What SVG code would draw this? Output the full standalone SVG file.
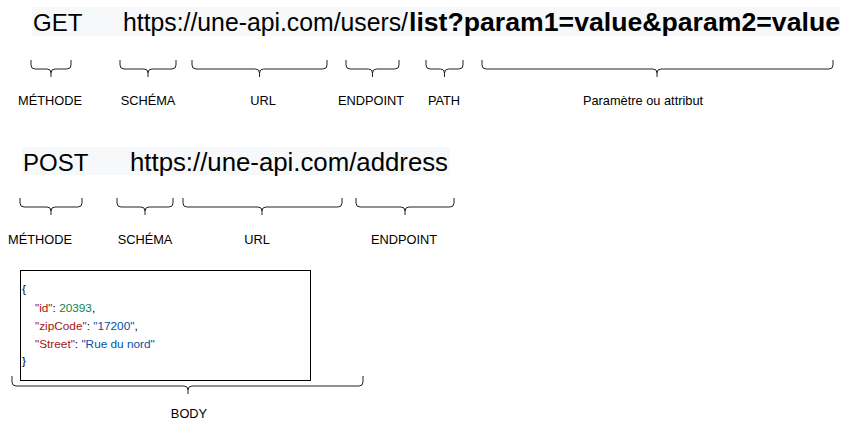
<svg xmlns="http://www.w3.org/2000/svg" width="851" height="426" viewBox="0 0 851 426">
<style>
.bg{fill:#f6f8fa}
.big{font-family:"Liberation Sans",Arial,sans-serif;font-size:24px;fill:#000}
.url{font-family:"Liberation Sans",Arial,sans-serif;font-size:25px;fill:#000}
.b{font-weight:bold}
.lbl{font-family:"Liberation Sans",Arial,sans-serif;font-size:12.8px;fill:#000;text-anchor:middle}
.brace{fill:none;stroke:#222;stroke-width:1}
.code{font-family:"Liberation Sans",Arial,sans-serif;font-size:11.8px;fill:#000}
.k{fill:#a31515}.n{fill:#098658}.s{fill:#0451a5}
</style>
<rect width="851" height="426" fill="#fff"/>
<g id="get-request">
<rect class="bg" x="32" y="7" width="808" height="29"/>
<text class="big" x="33" y="31">GET</text>
<text class="url" x="123" y="31" textLength="285" lengthAdjust="spacingAndGlyphs">https://une-api.com/users/</text>
<text class="url b" x="409" y="31" textLength="431" lengthAdjust="spacingAndGlyphs">list?param1=value&amp;param2=value</text>
</g>
<g id="post-request">
<rect class="bg" x="22" y="147" width="428" height="28"/>
<text class="big" x="23" y="171">POST</text>
<text class="url" x="130" y="171" textLength="318" lengthAdjust="spacingAndGlyphs">https://une-api.com/address</text>
</g>
<g id="connectors">
<path class="brace" d="M31,60 V65 Q31,69 35,69 H47 Q51,69 51,73 V77 M51,73 Q51,69 55,69 H67 Q71,69 71,65 V60"/>
<path class="brace" d="M120,60 V65 Q120,69 124,69 H144 Q148,69 148,73 V77 M148,73 Q148,69 152,69 H172 Q176,69 176,65 V60"/>
<path class="brace" d="M192,60 V65 Q192,69 196,69 H255.5 Q259.5,69 259.5,73 V77 M259.5,73 Q259.5,69 263.5,69 H323 Q327,69 327,65 V60"/>
<path class="brace" d="M346,60 V65 Q346,69 350,69 H368.5 Q372.5,69 372.5,73 V77 M372.5,73 Q372.5,69 376.5,69 H395 Q399,69 399,65 V60"/>
<path class="brace" d="M426,60 V65 Q426,69 430,69 H440.5 Q444.5,69 444.5,73 V77 M444.5,73 Q444.5,69 448.5,69 H459 Q463,69 463,65 V60"/>
<path class="brace" d="M482,60 V65 Q482,69 486,69 H653 Q657,69 657,73 V77 M657,73 Q657,69 661,69 H829 Q833,69 833,65 V60"/>
<path class="brace" d="M20,198 V203 Q20,207 24,207 H47 Q51,207 51,211 V215 M51,211 Q51,207 55,207 H78 Q82,207 82,203 V198"/>
<path class="brace" d="M117,198 V203 Q117,207 121,207 H141 Q145,207 145,211 V215 M145,211 Q145,207 149,207 H169 Q173,207 173,203 V198"/>
<path class="brace" d="M183,198 V203 Q183,207 187,207 H258 Q262,207 262,211 V215 M262,211 Q262,207 266,207 H338 Q342,207 342,203 V198"/>
<path class="brace" d="M356,198 V203 Q356,207 360,207 H401 Q405,207 405,211 V215 M405,211 Q405,207 409,207 H450 Q454,207 454,203 V198"/>
<path class="brace" d="M12,376 V382 Q12,386 16,386 H184 Q188,386 188,390 V394 M188,390 Q188,386 192,386 H359 Q363,386 363,382 V376"/>
</g>
<g id="labels-get">
<text class="lbl" x="50" y="105">MÉTHODE</text>
<text class="lbl" x="148" y="105">SCHÉMA</text>
<text class="lbl" x="263" y="105">URL</text>
<text class="lbl" x="371" y="105">ENDPOINT</text>
<text class="lbl" x="444" y="105">PATH</text>
<text class="lbl" x="643" y="105">Paramètre ou attribut</text>
</g>
<g id="labels-post">
<text class="lbl" x="40" y="244">MÉTHODE</text>
<text class="lbl" x="145" y="244">SCHÉMA</text>
<text class="lbl" x="257" y="244">URL</text>
<text class="lbl" x="404" y="244">ENDPOINT</text>
</g>
<g id="body">
<rect x="20.5" y="270.5" width="290" height="110" fill="#fff" stroke="#000" stroke-width="1"/>
<text class="code" x="22" y="293">{</text>
<text class="code" x="35" y="312"><tspan class="k">"id"</tspan>: <tspan class="n">20393</tspan>,</text>
<text class="code" x="35" y="330"><tspan class="k">"zipCode"</tspan>: <tspan class="s">"17200"</tspan>,</text>
<text class="code" x="35" y="348"><tspan class="k">"Street"</tspan>: <tspan class="s">"Rue du nord"</tspan></text>
<text class="code" x="22" y="365">}</text>
<text class="lbl" x="189" y="418">BODY</text>
</g>
</svg>
